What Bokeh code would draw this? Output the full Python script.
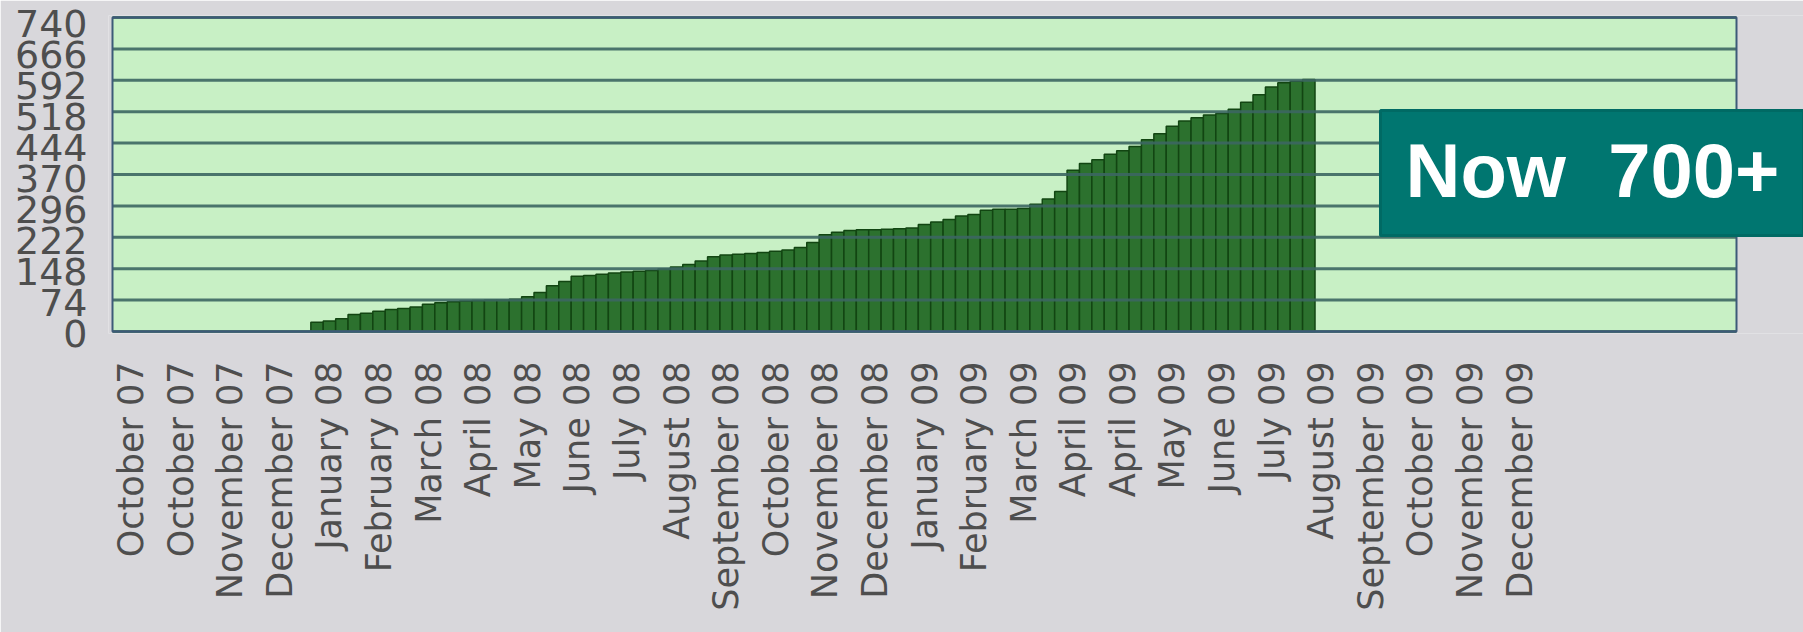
from bokeh.plotting import figure
from bokeh.models import Range1d, FixedTicker, Label, LinearAxis, BoxAnnotation
from bokeh.embed import file_html
from bokeh.resources import INLINE
import math

# ---- data ----
tick_labels = ["October 07", "October 07", "November 07", "December 07",
               "January 08", "February 08", "March 08", "April 08", "May 08",
               "June 08", "July 08", "August 08", "September 08", "October 08",
               "November 08", "December 08", "January 09", "February 09",
               "March 09", "April 09", "April 09", "May 09", "June 09",
               "July 09", "August 09", "September 09", "October 09",
               "November 09", "December 09"]
y_ticks = [0, 74, 148, 222, 296, 370, 444, 518, 592, 666, 740]
first_week = 16
counts = [22, 25, 30, 40, 43, 48, 52, 54, 58, 64, 68, 70, 72, 73, 74, 74, 76, 82,
          92, 108, 118, 130, 132, 135, 138, 140, 142, 144, 147, 152, 158, 166,
          176, 180, 182, 184, 186, 189, 192, 198, 210, 228, 234, 238, 240, 240,
          241, 242, 244, 252, 258, 264, 272, 276, 286, 288, 288, 290, 300, 312,
          330, 380, 396, 405, 418, 426, 436, 452, 466, 484, 496, 504, 510, 514,
          524, 540, 558, 576, 586, 590, 594]
n_slots = 131
weeks_per_label = 4
badge_text = "Now \u00a0700+"

weeks = [first_week + i + 0.5 for i in range(len(counts))]
tick_pos = [1.5 + weeks_per_label * i for i in range(len(tick_labels))]

# ---- layout (pixels) ----
W, H = 1803, 632
plot_w_px, plot_h_px = 1624, 314
pad_px = 4
border_left, border_top = 108, 15
frame_w = W - border_left
frame_h = plot_h_px + 4
border_bottom = H - border_top - frame_h
pps = plot_w_px / n_slots
ypp = 740 / plot_h_px
x_start = -pad_px / pps
x_end = x_start + frame_w / pps
y_start = -2 * ypp
y_end = 740 + 2 * ypp


def px_to_x(px):
    return x_start + (px - border_left) / pps


def py_to_y(py):
    return y_end - (py - border_top) * ypp


bg = "#d8d7db"
green_bg = "#c8f0c5"
grid_col = "#3c6662"

p = figure(frame_width=frame_w, frame_height=frame_h,
           min_border_left=border_left, min_border_right=0,
           min_border_top=border_top, min_border_bottom=border_bottom,
           x_range=Range1d(x_start, x_end), y_range=Range1d(y_start, y_end),
           output_backend="svg", toolbar_location=None,
           background_fill_color=bg, border_fill_color=bg)
p.outline_line_color = None
p.xgrid.visible = False
p.ygrid.visible = False

# plot area
p.quad(left=[0], right=[n_slots], bottom=[0], top=[740],
       fill_color=green_bg, line_color=None)
p.vbar(x=weeks, top=counts, width=1.0, bottom=0,
       fill_color="#2c712e", line_color="#124512", line_width=1.5)
p.segment(x0=[0] * len(y_ticks), x1=[n_slots] * len(y_ticks),
          y0=y_ticks, y1=y_ticks, line_color=grid_col, line_width=3,
          line_alpha=0.9)
p.quad(left=[0], right=[n_slots], bottom=[0], top=[740],
       fill_color=None, line_color="#3d5a78", line_width=2)

# y axis labels (slightly shifted range so labels sit like the original)
lab_end = frame_h * 740 / 310
p.extra_y_ranges = {"lab": Range1d(0, lab_end)}
p.yaxis.visible = False
yax = LinearAxis(y_range_name="lab", ticker=FixedTicker(ticks=y_ticks))
yax.axis_line_color = None
yax.major_tick_line_color = None
yax.minor_tick_line_color = None
yax.major_label_text_font = "DejaVu Sans"
yax.major_label_text_font_size = "38px"
yax.major_label_text_color = "#4e4e4e"
yax.major_label_standoff = 15
p.add_layout(yax, "left")

p.xaxis.ticker = FixedTicker(ticks=tick_pos)
p.xaxis.major_label_overrides = {t: s for t, s in zip(tick_pos, tick_labels)}
p.xaxis.major_label_orientation = math.pi / 2
p.xaxis.axis_line_color = None
p.xaxis.major_tick_line_color = None
p.xaxis.minor_tick_line_color = None
p.xaxis.major_label_text_font = "DejaVu Sans"
p.xaxis.major_label_text_font_size = "35px"
p.xaxis.major_label_text_color = "#4e4e4e"
p.xaxis.major_label_standoff = 22

# "Now 700+" badge
box = BoxAnnotation(left=px_to_x(1380), top=py_to_y(110), bottom=py_to_y(235),
                    fill_color="#007670", fill_alpha=1.0,
                    line_color="#006a64", line_width=3, line_alpha=1.0)
p.add_layout(box)
badge = Label(x=px_to_x(1405), y=py_to_y(170),
              text=badge_text, text_font="Liberation Sans",
              text_font_style="bold", text_font_size="76px",
              text_color="white", text_baseline="alphabetic",
              text_align="left")
p.add_layout(badge)

open("out.html", "w").write(file_html(p, INLINE))
